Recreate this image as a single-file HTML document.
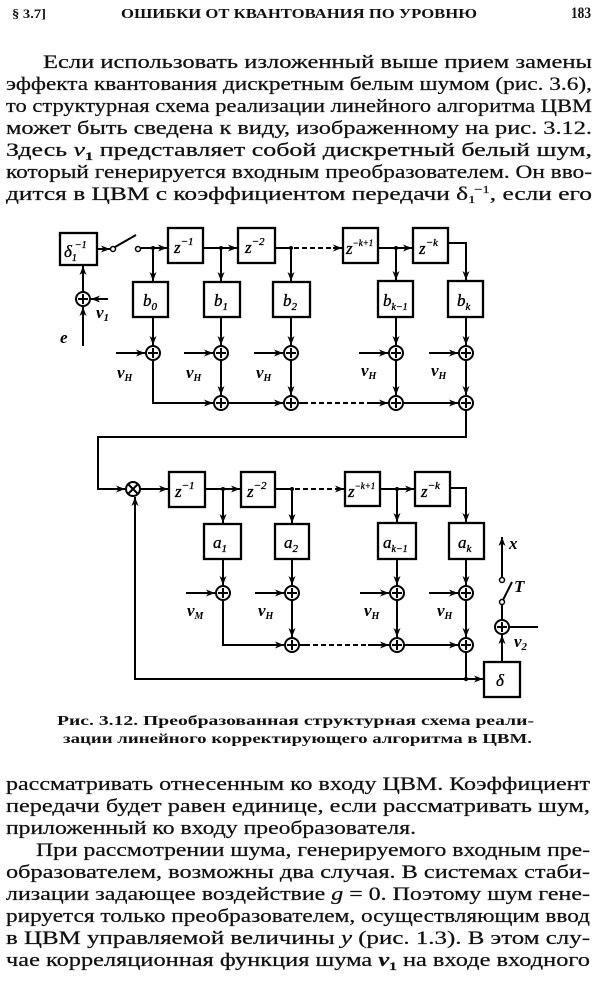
<!DOCTYPE html>
<html><head><meta charset="utf-8">
<style>
html,body{margin:0;padding:0;background:#fff;}
svg{display:block;}
.t{font-family:"Liberation Serif",serif;font-size:19px;fill:#111;stroke:#111;stroke-width:0.25;}
.h{font-family:"Liberation Serif",serif;font-weight:bold;fill:#111;}
.c{font-family:"Liberation Serif",serif;font-weight:bold;font-size:14px;fill:#111;}
.l{font-family:"Liberation Serif",serif;font-style:italic;font-size:17px;fill:#000;stroke:#000;stroke-width:0.35;}
.lb{font-family:"Liberation Serif",serif;font-style:italic;font-weight:bold;font-size:17px;fill:#000;}
.ln{fill:none;stroke:#000;stroke-width:2;}
.ds{fill:none;stroke:#000;stroke-width:2;stroke-dasharray:5,3;}
.bx{fill:#fff;stroke:#000;stroke-width:2.3;}
.cr{fill:#fff;stroke:#000;stroke-width:2;}
.sc{fill:#fff;stroke:#000;stroke-width:1.5;}
</style></head><body>
<svg width="600" height="981" viewBox="0 0 600 981" xmlns="http://www.w3.org/2000/svg">
<defs><marker id="a" markerWidth="10" markerHeight="8" refX="9" refY="4" orient="auto" markerUnits="userSpaceOnUse"><path d="M0,0.5 L9,4 L0,7.5 L2.5,4z" fill="#000"/></marker></defs>

<!-- header -->
<text class="h" x="12" y="18" font-size="13" textLength="34" lengthAdjust="spacingAndGlyphs">§ 3.7]</text>
<text class="h" x="121" y="18" font-size="14" textLength="356" lengthAdjust="spacingAndGlyphs">ОШИБКИ ОТ КВАНТОВАНИЯ ПО УРОВНЮ</text>
<text class="h" x="571" y="18" font-size="16" textLength="20" lengthAdjust="spacingAndGlyphs">183</text>

<!-- top text -->
<text class="t" x="43" y="68" textLength="549" lengthAdjust="spacingAndGlyphs">Если использовать изложенный выше прием замены</text>
<text class="t" x="6" y="90" textLength="586" lengthAdjust="spacingAndGlyphs">эффекта квантования дискретным белым шумом (рис. 3.6),</text>
<text class="t" x="6" y="112" textLength="586" lengthAdjust="spacingAndGlyphs">то структурная схема реализации линейного алгоритма ЦВМ</text>
<text class="t" x="6" y="134" textLength="586" lengthAdjust="spacingAndGlyphs">может быть сведена к виду, изображенному на рис. 3.12.</text>
<text class="t" x="6" y="156" textLength="586" lengthAdjust="spacingAndGlyphs">Здесь <tspan font-style="italic">v</tspan><tspan font-size="12" dy="4" font-weight="bold">1</tspan><tspan dy="-4"> представляет собой дискретный белый шум,</tspan></text>
<text class="t" x="6" y="178" textLength="586" lengthAdjust="spacingAndGlyphs">который генерируется входным преобразователем. Он вво-</text>
<text class="t" x="6" y="200" textLength="586" lengthAdjust="spacingAndGlyphs">дится в ЦВМ с коэффициентом передачи δ<tspan font-size="11" dy="3">1</tspan><tspan font-size="11" dy="-10" dx="-1">−1</tspan><tspan dy="7">, если его</tspan></text>

<!-- ===== DIAGRAM TOP ===== -->
<!-- input part -->
<line class="ln" x1="108" y1="299" x2="91" y2="299" marker-end="url(#a)"/>
<line class="ln" x1="83" y1="346" x2="83" y2="307" marker-end="url(#a)"/>
<line class="ln" x1="83" y1="292" x2="83" y2="266" marker-end="url(#a)"/>
<circle class="cr" cx="83" cy="299" r="7"/>
<line class="ln" x1="78" y1="299" x2="88" y2="299"/><line class="ln" x1="83" y1="294" x2="83" y2="304"/>
<text class="lb" x="96" y="318">v<tspan font-size="11" dy="3">1</tspan></text>
<text class="lb" x="60" y="343">e</text>

<rect class="bx" x="60" y="233" width="37" height="32"/>
<text class="l" x="64" y="257">δ<tspan font-size="10" dy="4">1</tspan><tspan font-size="10" dy="-13" dx="-2">−1</tspan></text>

<line class="ln" x1="97" y1="249" x2="110" y2="249" marker-end="url(#a)"/>
<line class="ln" x1="115" y1="247" x2="136" y2="235"/>
<circle class="sc" cx="113" cy="249" r="2.5"/>
<circle class="sc" cx="138" cy="249" r="2.5"/>
<line class="ln" x1="141" y1="248" x2="167" y2="248" marker-end="url(#a)"/>
<circle cx="153" cy="248" r="2" fill="#000"/>
<line class="ln" x1="153" y1="248" x2="153" y2="281" marker-end="url(#a)"/>

<rect class="bx" x="168" y="228" width="35" height="35"/>
<text class="l" x="174" y="253">z<tspan font-size="11" dy="-8">−1</tspan></text>
<line class="ln" x1="203" y1="248" x2="237" y2="248" marker-end="url(#a)"/>
<circle cx="221" cy="248" r="2" fill="#000"/>
<line class="ln" x1="221" y1="248" x2="221" y2="281" marker-end="url(#a)"/>

<rect class="bx" x="238" y="228" width="37" height="35"/>
<text class="l" x="245" y="253">z<tspan font-size="11" dy="-8">−2</tspan></text>
<line class="ln" x1="275" y1="248" x2="292" y2="248"/>
<circle cx="291" cy="248" r="2" fill="#000"/>
<line class="ds" x1="294" y1="248" x2="333" y2="248"/>
<line class="ln" x1="333" y1="248" x2="342" y2="248" marker-end="url(#a)"/>
<line class="ln" x1="291" y1="248" x2="291" y2="281" marker-end="url(#a)"/>

<rect class="bx" x="343" y="228" width="35" height="35"/>
<text class="l" x="346" y="254">z<tspan font-size="9" dy="-8">−k+1</tspan></text>
<line class="ln" x1="378" y1="248" x2="412" y2="248" marker-end="url(#a)"/>
<circle cx="396" cy="248" r="2" fill="#000"/>
<line class="ln" x1="396" y1="248" x2="396" y2="280" marker-end="url(#a)"/>

<rect class="bx" x="413" y="228" width="35" height="35"/>
<text class="l" x="419" y="254">z<tspan font-size="11" dy="-8">−k</tspan></text>
<polyline class="ln" points="448,243 466,243 466,280" marker-end="url(#a)"/>

<!-- b boxes -->
<rect class="bx" x="133" y="282" width="35" height="35"/>
<text class="l" x="143" y="306">b<tspan font-size="11" dy="4">0</tspan></text>
<rect class="bx" x="204" y="282" width="36" height="35"/>
<text class="l" x="214" y="306">b<tspan font-size="11" dy="4">1</tspan></text>
<rect class="bx" x="273" y="282" width="37" height="35"/>
<text class="l" x="283" y="306">b<tspan font-size="11" dy="4">2</tspan></text>
<rect class="bx" x="378" y="281" width="35" height="36"/>
<text class="l" x="383" y="306">b<tspan font-size="10" dy="4">k−1</tspan></text>
<rect class="bx" x="448" y="281" width="35" height="36"/>
<text class="l" x="457" y="306">b<tspan font-size="11" dy="4">k</tspan></text>

<!-- b to sums -->
<line class="ln" x1="153" y1="317" x2="153" y2="345" marker-end="url(#a)"/>
<line class="ln" x1="221" y1="317" x2="221" y2="345" marker-end="url(#a)"/>
<line class="ln" x1="291" y1="317" x2="291" y2="345" marker-end="url(#a)"/>
<line class="ln" x1="396" y1="317" x2="396" y2="345" marker-end="url(#a)"/>
<line class="ln" x1="466" y1="317" x2="466" y2="345" marker-end="url(#a)"/>

<!-- noise inputs row 1 -->
<line class="ln" x1="116" y1="353" x2="145" y2="353" marker-end="url(#a)"/>
<line class="ln" x1="184" y1="353" x2="213" y2="353" marker-end="url(#a)"/>
<line class="ln" x1="254" y1="353" x2="283" y2="353" marker-end="url(#a)"/>
<line class="ln" x1="359" y1="353" x2="388" y2="353" marker-end="url(#a)"/>
<line class="ln" x1="429" y1="353" x2="458" y2="353" marker-end="url(#a)"/>
<text class="lb" x="117" y="378">v<tspan font-size="10" dy="3">H</tspan></text>
<text class="lb" x="186" y="378">v<tspan font-size="10" dy="3">H</tspan></text>
<text class="lb" x="256" y="378">v<tspan font-size="10" dy="3">H</tspan></text>
<text class="lb" x="361" y="376">v<tspan font-size="10" dy="3">H</tspan></text>
<text class="lb" x="431" y="376">v<tspan font-size="10" dy="3">H</tspan></text>

<!-- row 1 to row 2 -->
<polyline class="ln" points="153,360 153,403 213,403" marker-end="url(#a)"/>
<line class="ln" x1="221" y1="360" x2="221" y2="395" marker-end="url(#a)"/>
<line class="ln" x1="228" y1="403" x2="283" y2="403" marker-end="url(#a)"/>
<line class="ln" x1="291" y1="360" x2="291" y2="395" marker-end="url(#a)"/>
<line class="ln" x1="298" y1="403" x2="303" y2="403"/>
<line class="ds" x1="303" y1="403" x2="370" y2="403"/>
<line class="ln" x1="370" y1="403" x2="388" y2="403" marker-end="url(#a)"/>
<line class="ln" x1="396" y1="360" x2="396" y2="395" marker-end="url(#a)"/>
<line class="ln" x1="403" y1="403" x2="458" y2="403" marker-end="url(#a)"/>
<line class="ln" x1="466" y1="360" x2="466" y2="395" marker-end="url(#a)"/>
<polyline class="ln" points="466,410 466,437 98,437 98,489 125,489" marker-end="url(#a)"/>

<!-- sum circles top -->
<g>
<circle class="cr" cx="153" cy="353" r="7"/><line class="ln" x1="148" y1="353" x2="158" y2="353"/><line class="ln" x1="153" y1="348" x2="153" y2="358"/>
<circle class="cr" cx="221" cy="353" r="7"/><line class="ln" x1="216" y1="353" x2="226" y2="353"/><line class="ln" x1="221" y1="348" x2="221" y2="358"/>
<circle class="cr" cx="291" cy="353" r="7"/><line class="ln" x1="286" y1="353" x2="296" y2="353"/><line class="ln" x1="291" y1="348" x2="291" y2="358"/>
<circle class="cr" cx="396" cy="353" r="7"/><line class="ln" x1="391" y1="353" x2="401" y2="353"/><line class="ln" x1="396" y1="348" x2="396" y2="358"/>
<circle class="cr" cx="466" cy="353" r="7"/><line class="ln" x1="461" y1="353" x2="471" y2="353"/><line class="ln" x1="466" y1="348" x2="466" y2="358"/>
<circle class="cr" cx="221" cy="403" r="7"/><line class="ln" x1="216" y1="403" x2="226" y2="403"/><line class="ln" x1="221" y1="398" x2="221" y2="408"/>
<circle class="cr" cx="291" cy="403" r="7"/><line class="ln" x1="286" y1="403" x2="296" y2="403"/><line class="ln" x1="291" y1="398" x2="291" y2="408"/>
<circle class="cr" cx="396" cy="403" r="7"/><line class="ln" x1="391" y1="403" x2="401" y2="403"/><line class="ln" x1="396" y1="398" x2="396" y2="408"/>
<circle class="cr" cx="466" cy="403" r="7"/><line class="ln" x1="461" y1="403" x2="471" y2="403"/><line class="ln" x1="466" y1="398" x2="466" y2="408"/>
</g>

<!-- ===== DIAGRAM BOTTOM ===== -->
<circle class="cr" cx="133" cy="489" r="7"/>
<line class="ln" x1="128.5" y1="484.5" x2="137.5" y2="493.5"/><line class="ln" x1="137.5" y1="484.5" x2="128.5" y2="493.5"/>
<line class="ln" x1="140" y1="489" x2="168" y2="489" marker-end="url(#a)"/>

<rect class="bx" x="169" y="472" width="36" height="35"/>
<text class="l" x="175" y="497">z<tspan font-size="11" dy="-8">−1</tspan></text>
<line class="ln" x1="205" y1="489" x2="240" y2="489" marker-end="url(#a)"/>
<circle cx="223" cy="489" r="2" fill="#000"/>
<line class="ln" x1="223" y1="489" x2="223" y2="523" marker-end="url(#a)"/>

<rect class="bx" x="241" y="472" width="34" height="35"/>
<text class="l" x="247" y="497">z<tspan font-size="11" dy="-8">−2</tspan></text>
<line class="ln" x1="275" y1="489" x2="292" y2="489"/>
<circle cx="292" cy="489" r="2" fill="#000"/>
<line class="ds" x1="295" y1="489" x2="335" y2="489"/>
<line class="ln" x1="335" y1="489" x2="344" y2="489" marker-end="url(#a)"/>
<line class="ln" x1="292" y1="489" x2="292" y2="523" marker-end="url(#a)"/>

<rect class="bx" x="345" y="472" width="35" height="34"/>
<text class="l" x="348" y="497">z<tspan font-size="9" dy="-8">−k+1</tspan></text>
<line class="ln" x1="380" y1="489" x2="414" y2="489" marker-end="url(#a)"/>
<circle cx="397" cy="489" r="2" fill="#000"/>
<line class="ln" x1="397" y1="489" x2="397" y2="522" marker-end="url(#a)"/>

<rect class="bx" x="415" y="472" width="35" height="34"/>
<text class="l" x="421" y="497">z<tspan font-size="11" dy="-8">−k</tspan></text>
<polyline class="ln" points="450,488 466,488 466,522" marker-end="url(#a)"/>

<rect class="bx" x="204" y="524" width="37" height="35"/>
<text class="l" x="213" y="548">a<tspan font-size="11" dy="4">1</tspan></text>
<rect class="bx" x="275" y="524" width="34" height="35"/>
<text class="l" x="284" y="548">a<tspan font-size="11" dy="4">2</tspan></text>
<rect class="bx" x="378" y="523" width="38" height="36"/>
<text class="l" x="383" y="548">a<tspan font-size="10" dy="4">k−1</tspan></text>
<rect class="bx" x="449" y="523" width="35" height="36"/>
<text class="l" x="458" y="548">a<tspan font-size="11" dy="4">k</tspan></text>

<line class="ln" x1="223" y1="559" x2="223" y2="585" marker-end="url(#a)"/>
<line class="ln" x1="292" y1="559" x2="292" y2="585" marker-end="url(#a)"/>
<line class="ln" x1="397" y1="559" x2="397" y2="585" marker-end="url(#a)"/>
<line class="ln" x1="466" y1="559" x2="466" y2="585" marker-end="url(#a)"/>

<line class="ln" x1="186" y1="593" x2="215" y2="593" marker-end="url(#a)"/>
<line class="ln" x1="255" y1="593" x2="284" y2="593" marker-end="url(#a)"/>
<line class="ln" x1="360" y1="593" x2="389" y2="593" marker-end="url(#a)"/>
<line class="ln" x1="429" y1="593" x2="458" y2="593" marker-end="url(#a)"/>
<text class="lb" x="187" y="616">v<tspan font-size="10" dy="3">M</tspan></text>
<text class="lb" x="258" y="616">v<tspan font-size="10" dy="3">H</tspan></text>
<text class="lb" x="364" y="616">v<tspan font-size="10" dy="3">H</tspan></text>
<text class="lb" x="437" y="616">v<tspan font-size="10" dy="3">H</tspan></text>

<polyline class="ln" points="223,600 223,645 284,645" marker-end="url(#a)"/>
<line class="ln" x1="292" y1="600" x2="292" y2="637" marker-end="url(#a)"/>
<line class="ln" x1="299" y1="645" x2="305" y2="645"/>
<line class="ds" x1="305" y1="645" x2="368" y2="645"/>
<line class="ln" x1="368" y1="645" x2="389" y2="645" marker-end="url(#a)"/>
<line class="ln" x1="397" y1="600" x2="397" y2="637" marker-end="url(#a)"/>
<line class="ln" x1="404" y1="645" x2="458" y2="645" marker-end="url(#a)"/>
<line class="ln" x1="466" y1="600" x2="466" y2="637" marker-end="url(#a)"/>
<line class="ln" x1="466" y1="652" x2="466" y2="679"/>
<circle cx="466" cy="679" r="2.2" fill="#000"/>
<line class="ln" x1="466" y1="679" x2="483" y2="679" marker-end="url(#a)"/>
<polyline class="ln" points="466,679 135,679 135,497" marker-end="url(#a)"/>

<g>
<circle class="cr" cx="223" cy="593" r="7"/><line class="ln" x1="218" y1="593" x2="228" y2="593"/><line class="ln" x1="223" y1="588" x2="223" y2="598"/>
<circle class="cr" cx="292" cy="593" r="7"/><line class="ln" x1="287" y1="593" x2="297" y2="593"/><line class="ln" x1="292" y1="588" x2="292" y2="598"/>
<circle class="cr" cx="397" cy="593" r="7"/><line class="ln" x1="392" y1="593" x2="402" y2="593"/><line class="ln" x1="397" y1="588" x2="397" y2="598"/>
<circle class="cr" cx="466" cy="593" r="7"/><line class="ln" x1="461" y1="593" x2="471" y2="593"/><line class="ln" x1="466" y1="588" x2="466" y2="598"/>
<circle class="cr" cx="292" cy="645" r="7"/><line class="ln" x1="287" y1="645" x2="297" y2="645"/><line class="ln" x1="292" y1="640" x2="292" y2="650"/>
<circle class="cr" cx="397" cy="645" r="7"/><line class="ln" x1="392" y1="645" x2="402" y2="645"/><line class="ln" x1="397" y1="640" x2="397" y2="650"/>
<circle class="cr" cx="466" cy="645" r="7"/><line class="ln" x1="461" y1="645" x2="471" y2="645"/><line class="ln" x1="466" y1="640" x2="466" y2="650"/>
</g>

<!-- output part -->
<rect class="bx" x="484" y="662" width="36" height="35"/>
<text class="l" x="496" y="686">δ</text>
<line class="ln" x1="502" y1="662" x2="502" y2="635" marker-end="url(#a)"/>
<circle class="cr" cx="502" cy="627" r="7"/><line class="ln" x1="497" y1="627" x2="507" y2="627"/><line class="ln" x1="502" y1="622" x2="502" y2="632"/>
<line class="ln" x1="509" y1="627" x2="538" y2="627"/>
<text class="lb" x="514" y="647">v<tspan font-size="11" dy="3">2</tspan></text>
<line class="ln" x1="502" y1="620" x2="502" y2="605"/>
<line class="ln" x1="503" y1="600" x2="512" y2="582"/>
<circle class="sc" cx="502" cy="602" r="2.5"/>
<circle class="sc" cx="502" cy="580" r="2.5"/>
<text class="lb" x="514" y="592" font-size="15">T</text>
<line class="ln" x1="502" y1="577" x2="502" y2="537" marker-end="url(#a)"/>
<text class="lb" x="509" y="549">x</text>

<!-- caption -->
<text class="c" x="57" y="725" textLength="477" lengthAdjust="spacingAndGlyphs">Рис. 3.12. Преобразованная структурная схема реали-</text>
<text class="c" x="63" y="743" textLength="469" lengthAdjust="spacingAndGlyphs">зации линейного корректирующего алгоритма в ЦВМ.</text>

<!-- bottom text -->
<text class="t" x="6" y="790" textLength="584" lengthAdjust="spacingAndGlyphs">рассматривать отнесенным ко входу ЦВМ. Коэффициент</text>
<text class="t" x="6" y="812" textLength="584" lengthAdjust="spacingAndGlyphs">передачи будет равен единице, если рассматривать шум,</text>
<text class="t" x="6" y="834" textLength="410" lengthAdjust="spacingAndGlyphs">приложенный ко входу преобразователя.</text>
<text class="t" x="36" y="856" textLength="554" lengthAdjust="spacingAndGlyphs">При рассмотрении шума, генерируемого входным пре-</text>
<text class="t" x="6" y="878" textLength="584" lengthAdjust="spacingAndGlyphs">образователем, возможны два случая. В системах стаби-</text>
<text class="t" x="6" y="900" textLength="584" lengthAdjust="spacingAndGlyphs">лизации задающее воздействие <tspan font-style="italic">g</tspan> = 0. Поэтому шум гене-</text>
<text class="t" x="6" y="922" textLength="584" lengthAdjust="spacingAndGlyphs">рируется только преобразователем, осуществляющим ввод</text>
<text class="t" x="6" y="944" textLength="584" lengthAdjust="spacingAndGlyphs">в ЦВМ управляемой величины <tspan font-style="italic">y</tspan> (рис. 1.3). В этом слу-</text>
<text class="t" x="6" y="966" textLength="584" lengthAdjust="spacingAndGlyphs">чае корреляционная функция шума <tspan font-style="italic" font-weight="bold">v</tspan><tspan font-size="12" dy="4" font-weight="bold">1</tspan><tspan dy="-4"> на входе входного</tspan></text>
</svg>
</body></html>
